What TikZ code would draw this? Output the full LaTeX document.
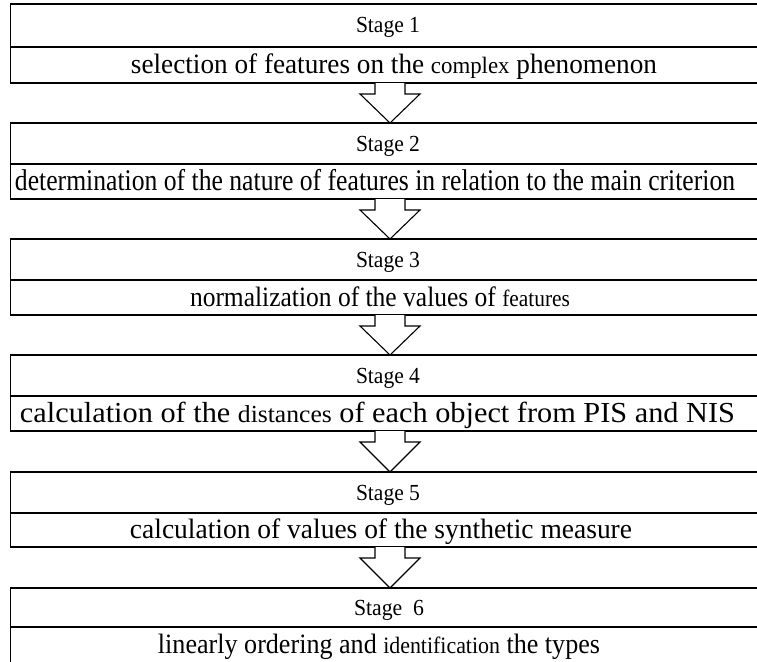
\documentclass[tikz,border=0pt]{standalone}
\usepackage{fontspec}
\setmainfont{Liberation Serif}
\usepackage{graphicx}
\newcommand\fitline[3][28]{\resizebox{#2}{\height}{\fontsize{#1}{32}\selectfont #3}}
\newcommand\fitstage[2]{\resizebox{#1}{\height}{\fontsize{23}{27}\selectfont #2}}
\tikzset{
  boxrow/.style={draw=black, line width=1.1pt, minimum width=759.5pt, inner sep=0pt, outer sep=0pt},
  stagetext/.style={anchor=base, inner sep=0pt},
  desctext/.style={anchor=base, inner sep=0pt},
  blockarrow/.style={draw=black, line width=1.1pt, fill=white, line join=miter}
}
\begin{document}
\begin{tikzpicture}[x=1pt, y=-1pt]
\useasboundingbox (0,0) rectangle (757,661);
\clip (0,0) rectangle (757,661);
% box rows
\node[boxrow, minimum height=43pt] (r1a) at (390,25.5) {};
\node[boxrow, minimum height=36pt] (r1b) at (390,65) {};
\node[boxrow, minimum height=41pt] (r2a) at (390,143.5) {};
\node[boxrow, minimum height=35pt] (r2b) at (390,181.5) {};
\node[boxrow, minimum height=41pt] (r3a) at (390,259.5) {};
\node[boxrow, minimum height=35pt] (r3b) at (390,297.5) {};
\node[boxrow, minimum height=41pt] (r4a) at (390,375.5) {};
\node[boxrow, minimum height=35pt] (r4b) at (390,413.5) {};
\node[boxrow, minimum height=41pt] (r5a) at (390,492.5) {};
\node[boxrow, minimum height=34pt] (r5b) at (390,530) {};
\node[boxrow, minimum height=39pt] (r6a) at (390,607.5) {};
\node[boxrow, minimum height=36pt] (r6b) at (390,645) {};
% stage labels
\node[stagetext] (t1a) at (388,33) {\fitstage{64pt}{Stage 1}};
\node[stagetext] (t2a) at (388,151) {\fitstage{64pt}{Stage 2}};
\node[stagetext] (t3a) at (388,267) {\fitstage{64pt}{Stage 3}};
\node[stagetext] (t4a) at (388,383) {\fitstage{64pt}{Stage 4}};
\node[stagetext] (t5a) at (388,500) {\fitstage{64pt}{Stage 5}};
\node[stagetext] (t6a) at (389,615) {\fitstage{70pt}{Stage~~6}};
% descriptions
\node[desctext] (t1b) at (394,73.5) {\fitline{526pt}{selection of features on the {\fontsize{23.5}{27}\selectfont complex} phenomenon}};
\node[desctext] (t2b) at (375,190) {\fitline[30]{720pt}{determination of the nature of features in relation to the main criterion}};
\node[desctext] (t3b) at (380,306) {\fitline{380pt}{normalization of the values of {\fontsize{23.5}{27}\selectfont features}}};
\node[desctext] (t4b) at (377.5,422) {\fitline[29]{715pt}{calculation of the {\fontsize{24.5}{27}\selectfont distances} of each object from PIS and NIS}};
\node[desctext] (t5b) at (381,538.5) {\fitline{502pt}{calculation of values of the synthetic measure}};
\node[desctext] (t6b) at (379,653.5) {\fitline{442pt}{linearly ordering and {\fontsize{23.5}{27}\selectfont identification} the types}};
% block arrows
\foreach \u/\v in {1/2, 2/3, 3/4, 4/5, 5/6} {
  \draw[blockarrow] ([xshift=-15pt]r\u b.south) -- ++(0,11) -- ++(-15,0) -- (r\v a.north)
    -- ([shift={(30,11)}]r\u b.south) -- ++(-15,0) -- ([xshift=15pt]r\u b.south);
}
\end{tikzpicture}
\end{document}
